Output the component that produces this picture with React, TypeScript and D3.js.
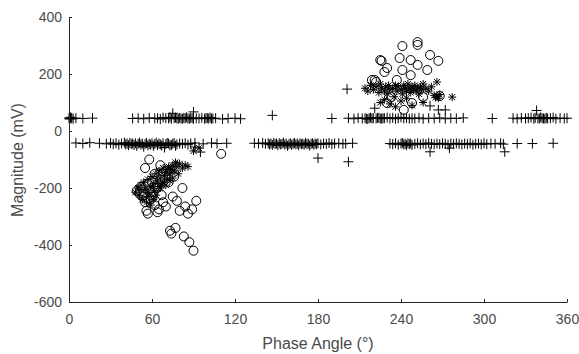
import { useEffect, useRef } from 'react'
import { select, scaleLinear, axisBottom, axisLeft } from 'd3'

// [phase (deg), magnitude (mV)]
const upperPlus: [number, number][] = [
  [0, 45], [0.5, 42], [1, 48], [1.5, 44], [2, 46], [3, 43], [5, 45], [10, 44], [17, 45],
  [46, 44], [50, 45], [54, 43], [58, 46], [62, 44], [64, 45], [66, 42], [68, 47], [70, 45], [72, 44],
  [73, 48], [74, 43], [75, 62], [76, 45], [77, 47], [78, 44], [79, 43], [80, 46], [81, 44], [82, 43],
  [83, 46], [84, 45], [85, 48], [86, 44], [87, 43], [88, 46], [89, 45], [90, 67], [90, 43], [92, 45],
  [94, 44], [96, 46], [98, 43], [99, 45], [100, 45], [101, 44], [102, 47], [103, 43], [104, 44],
  [106, 45], [111, 42], [115, 44], [120, 45], [124, 43],
  [147, 55], [201, 147],
  [190, 44], [202, 45], [206, 43], [209, 46], [212, 44], [214, 45], [215, 43], [216, 42], [217, 45],
  [218, 47], [219, 44], [220, 45], [221, 80], [222, 44], [223, 46], [224, 46], [225, 44], [226, 43],
  [227, 45], [228, 45], [230, 47], [232, 44], [234, 46], [236, 43], [238, 45], [240, 48], [242, 44],
  [244, 46], [246, 43], [248, 45], [250, 44], [253, 46], [256, 43], [260, 45], [261, 88], [264, 44],
  [267, 74], [268, 46], [272, 43], [272, 74], [276, 45], [280, 44], [285, 46], [306, 44],
  [321, 45], [324, 43], [327, 46], [330, 44], [332, 45], [334, 47], [336, 43], [337, 46], [338, 72],
  [339, 44], [340, 44], [341, 48], [342, 45], [343, 44], [344, 43], [345, 46], [346, 44], [348, 45],
  [350, 47], [352, 43], [355, 45], [358, 44], [360, 45],
]

const lowerPlus: [number, number][] = [
  [5, -42], [10, -44], [15, -41], [22, -43], [27, -45], [30, -42], [32, -46], [34, -43], [36, -48],
  [38, -44], [40, -41], [41, -47], [42, -44], [43, -50], [44, -42], [45, -46], [46, -44], [47, -49],
  [48, -43], [49, -52], [50, -45], [51, -41], [52, -48], [53, -44], [54, -55], [55, -46], [56, -42],
  [57, -50], [58, -45], [59, -48], [60, -43], [61, -52], [62, -46], [63, -41], [64, -49], [65, -44],
  [66, -47], [67, -51], [68, -43], [69, -58], [70, -46], [71, -42], [72, -44], [73, -50], [74, -49],
  [75, -45], [76, -42], [77, -52], [78, -47], [80, -44], [82, -45], [84, -43], [86, -48], [88, -44],
  [91, -56], [91, -42], [95, -74], [97, -45], [103, -42], [107, -44], [114, -43],
  [134, -43], [137, -44], [140, -42], [142, -45], [144, -43], [145, -47], [146, -44], [147, -49],
  [148, -42], [149, -46], [150, -44], [151, -50], [152, -43], [153, -47], [154, -45], [155, -41],
  [156, -48], [157, -44], [158, -52], [159, -46], [160, -43], [161, -49], [162, -45], [163, -42],
  [164, -47], [165, -44], [166, -50], [167, -43], [168, -46], [169, -45], [170, -48], [171, -42],
  [172, -46], [173, -44], [174, -51], [175, -45], [176, -43], [177, -48], [178, -44], [179, -46],
  [180, -95], [180, -43], [182, -47], [184, -44], [186, -45], [188, -42], [190, -46], [192, -44],
  [195, -43], [198, -45], [200, -44], [202, -108], [205, -43],
  [232, -44], [234, -46], [236, -43], [238, -48], [240, -44], [241, -42], [242, -47], [243, -45],
  [244, -50], [245, -43], [246, -46], [247, -44], [248, -49], [250, -45], [252, -43], [254, -47],
  [256, -44], [258, -46], [260, -42], [261, -73], [262, -45], [264, -47], [266, -44], [268, -46],
  [270, -43], [272, -45], [274, -48], [275, -60], [276, -44], [278, -46], [280, -43], [282, -45],
  [284, -47], [286, -44], [288, -46], [290, -43], [292, -48], [294, -45], [296, -44], [298, -47],
  [300, -43], [302, -46], [305, -44], [308, -45], [312, -43], [314, -46], [315, -73], [324, -44],
  [335, -44], [350, -43],
]

const circles: [number, number][] = [
  [49, -210], [51, -220], [52, -195], [53, -230], [55, -250], [56, -280], [57, -290], [58, -205],
  [59, -240], [60, -180], [61, -215], [62, -260], [63, -200], [64, -285], [65, -275], [66, -170],
  [67, -225], [68, -250], [70, -265], [72, -180], [73, -350], [74, -360], [75, -230], [77, -340],
  [78, -245], [80, -280], [82, -200], [83, -370], [84, -265], [86, -290], [87, -390], [89, -275],
  [90, -420], [92, -245], [55, -130], [58, -100], [62, -150], [66, -120], [70, -140], [76, -160],
  [110, -80], [60, -230], [54, -215], [57, -185],
  [241, 298], [252, 312], [252, 302], [226, 246], [239, 256], [247, 249], [261, 267], [267, 246],
  [230, 221], [241, 214], [252, 232], [259, 214], [221, 179], [228, 207], [237, 179], [247, 196],
  [256, 119], [233, 119], [230, 98], [248, 98], [242, 74], [225, 249], [219, 179], [222, 172],
  [268, 123],
]

const stars: [number, number][] = [
  [48, -215], [50, -200], [52, -190], [54, -180], [55, -205], [57, -170], [58, -230], [59, -195],
  [60, -160], [61, -185], [62, -210], [63, -150], [64, -175], [65, -140], [66, -165], [67, -190],
  [68, -130], [69, -155], [70, -145], [71, -170], [72, -125], [73, -150], [74, -135], [75, -120],
  [76, -140], [77, -110], [78, -125], [79, -150], [80, -115], [82, -130], [84, -120], [56, -250],
  [53, -240], [61, -240], [66, -200], [70, -190], [73, -175], [86, -125], [90, -70], [94, -60],
  [51, -225], [57, -215], [63, -225], [68, -180], [75, -165], [59, -260], [65, -195], [71, -135],
  [214, 150], [216, 140], [218, 160], [220, 145], [222, 155], [224, 135], [225, 165], [226, 150],
  [228, 140], [229, 155], [230, 130], [231, 160], [232, 145], [234, 150], [235, 120], [236, 160],
  [237, 140], [238, 155], [240, 145], [241, 130], [242, 160], [243, 150], [244, 140], [245, 165],
  [246, 150], [247, 135], [248, 155], [249, 145], [250, 160], [251, 140], [252, 150], [253, 130],
  [254, 155], [255, 145], [256, 165], [258, 150], [260, 140], [262, 155], [264, 125], [265, 118],
  [266, 122], [267, 115], [268, 128], [266, 172], [277, 119], [225, 100], [232, 95], [240, 105],
  [236, 85], [248, 90], [228, 110], [244, 115], [256, 100],
]

const xTicks = [0, 60, 120, 180, 240, 300, 360]
const yTicks = [-600, -400, -200, 0, 200, 400]

const plusPath = 'M-5,0H5M0,-5V5'
const starPath = 'M-4,0H4M0,-4V4M-3,-3L3,3M-3,3L3,-3'

export default function App() {
  const svgRef = useRef<SVGSVGElement | null>(null)

  useEffect(() => {
    const svg = select(svgRef.current)
    svg.selectAll('*').remove()

    const x = scaleLinear().domain([0, 360]).range([69, 567])
    const y = scaleLinear().domain([-600, 400]).range([302, 17])

    const font = 'Liberation Sans, Arial, sans-serif'

    const marks = svg.append('g').attr('fill', 'none').attr('stroke', '#000').attr('stroke-width', 1)

    marks
      .selectAll('.plus')
      .data([...upperPlus, ...lowerPlus])
      .join('path')
      .attr('class', 'plus')
      .attr('d', plusPath)
      .attr('transform', (d) => `translate(${x(d[0])},${y(d[1])})`)

    marks
      .selectAll('.ring')
      .data(circles)
      .join('circle')
      .attr('class', 'ring')
      .attr('cx', (d) => x(d[0]))
      .attr('cy', (d) => y(d[1]))
      .attr('r', 4.5)

    marks
      .selectAll('.star')
      .data(stars)
      .join('path')
      .attr('class', 'star')
      .attr('d', starPath)
      .attr('transform', (d) => `translate(${x(d[0])},${y(d[1])})`)

    // plain hyphen for negatives, like the original
    const fmt = (d: any) => String(d)

    const xAxis = axisBottom(x).tickValues(xTicks).tickFormat(fmt).tickSizeInner(-3).tickSizeOuter(0).tickPadding(12)
    const gx = svg.append('g').attr('transform', 'translate(0,302)').call(xAxis as any)

    const yAxis = axisLeft(y).tickValues(yTicks).tickFormat(fmt).tickSizeInner(-3).tickSizeOuter(0).tickPadding(7)
    const gy = svg.append('g').attr('transform', 'translate(69,0)').call(yAxis as any)

    for (const g of [gx, gy]) {
      g.select('.domain').attr('stroke', '#262626')
      g.selectAll('.tick line').attr('stroke', '#262626')
      g.selectAll('.tick text')
        .attr('fill', '#4a4a4a')
        .style('font-family', font)
        .style('font-size', '14px')
    }

    svg
      .append('text')
      .attr('x', 318)
      .attr('y', 349)
      .attr('text-anchor', 'middle')
      .attr('fill', '#4a4a4a')
      .style('font-family', font)
      .style('font-size', '16px')
      .text('Phase Angle (°)')

    svg
      .append('text')
      .attr('transform', 'translate(23,160) rotate(-90)')
      .attr('text-anchor', 'middle')
      .attr('fill', '#4a4a4a')
      .style('font-family', font)
      .style('font-size', '16px')
      .text('Magnitude (mV)')
  }, [])

  return (
    <svg
      ref={svgRef}
      width={579}
      height={354}
      style={{ position: 'absolute', left: 0, top: 0, background: '#fff' }}
    />
  )
}
